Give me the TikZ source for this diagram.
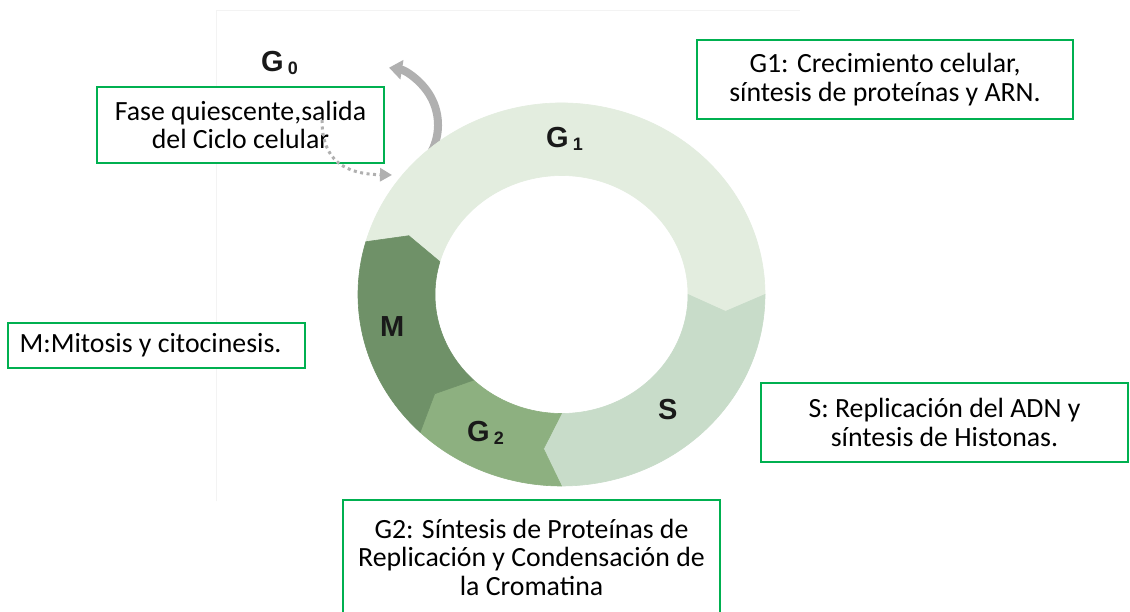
\documentclass[tikz,border=0pt]{standalone}
\usepackage{fontspec}
\setmainfont{Carlito}
\newfontfamily\lblfont{Liberation Sans}
\usetikzlibrary{arrows.meta}
\definecolor{boxgreen}{RGB}{0,176,80}
\definecolor{cGone}{RGB}{227,237,223}
\definecolor{cS}{RGB}{200,220,201}
\definecolor{cGtwo}{RGB}{141,176,128}
\definecolor{cM}{RGB}{111,145,104}
\definecolor{arrgray}{RGB}{176,176,176}
\definecolor{framegray}{RGB}{243,243,243}
\newcommand{\ringseg}[3]{%
  \filldraw[seg, fill=#1, draw=#1] (#2:203.5 and 191.5)
    arc[start angle=#2, end angle=#3, x radius=203.5, y radius=191.5]
    -- ({#3-6.25}:165 and 155.25) -- (#3:126.5 and 119)
    arc[start angle=#3, end angle=#2, x radius=126.5, y radius=119]
    -- ({#2-6.25}:165 and 155.25) -- cycle;}
\begin{document}
\begin{tikzpicture}[x=1pt,y=1pt,
  infobox/.style={draw=boxgreen, line width=2pt, fill=white, align=center,
    inner sep=0pt, font=\fontsize{27.8}{28.5}\selectfont},
  phase/.style={anchor=base west, inner sep=0pt,
    font=\lblfont\bfseries\fontsize{29}{29}\selectfont, text=black!90},
  seg/.style={line width=0.6pt, line join=round},
  solidarrow/.style={arrgray, line width=8pt, -{Triangle[length=13pt,width=19pt]}},
  dotarrow/.style={arrgray, line width=3pt, dash pattern=on 3pt off 3.5pt,
    -{Triangle[length=12pt,width=13pt]}}]
\useasboundingbox (0,0) rectangle (1130,611);
\fill[white] (0,0) rectangle (1130,611);
% faint frame
\draw[framegray, line width=1pt] (216,110) -- (216,600) -- (800,600);
% G0 exit arrow
\coordinate (g0out) at (431.7,459.7);
\draw[solidarrow] (g0out) arc[start angle=-27, end angle=81, radius=58];
% ring
\begin{scope}[shift={(561.5,316.5)}]
  \ringseg{cGone}{164}{0}
  \ringseg{cS}{0}{-90}
  \ringseg{cGtwo}{-90}{-134}
  \ringseg{cM}{-134}{-196}
\end{scope}
% phase labels
\node[phase] (lG0) at (261,539) {G\hspace{4pt}\raisebox{-3pt}{\fontsize{18}{18}\selectfont 0}};
\node[phase] (lG1) at (546,463) {G\hspace{4pt}\raisebox{-3pt}{\fontsize{18}{18}\selectfont 1}};
\node[phase] (lG2) at (467,169) {G\hspace{4pt}\raisebox{-3pt}{\fontsize{18}{18}\selectfont 2}};
\node[phase] (lM) at (380,274) {M};
\node[phase] (lS) at (658,191) {S};
% boxes
\node[infobox, minimum width=287pt, minimum height=76pt] (bG0) at (240.5,486)
  {Fase quiescente,salida\\del Ciclo celular};
\node[infobox, minimum width=376pt, minimum height=79pt] (bG1) at (885,531.5)
  {G1: Crecimiento celular,\\síntesis de proteínas y ARN.};
\node[infobox, minimum width=297pt, minimum height=45pt] (bM) at (156.5,265.5)
  {M:Mitosis y citocinesis.\kern12pt};
\node[infobox, minimum width=367pt, minimum height=79pt] (bS) at (944.5,188.5)
  {S: Replicación del ADN y\\síntesis de Histonas.};
\node[infobox, minimum width=377pt, minimum height=114pt] (bG2) at (531.5,54)
  {G2: Síntesis de Proteínas de\\Replicación y Condensación de\\la Cromatina};
% re-entry dotted arrow
\coordinate (g0in) at (322,491);
\coordinate (g1in) at (392,436);
\draw[dotarrow] (g0in) .. controls (322,450) and (345,437) .. (g1in);
\end{tikzpicture}
\end{document}
